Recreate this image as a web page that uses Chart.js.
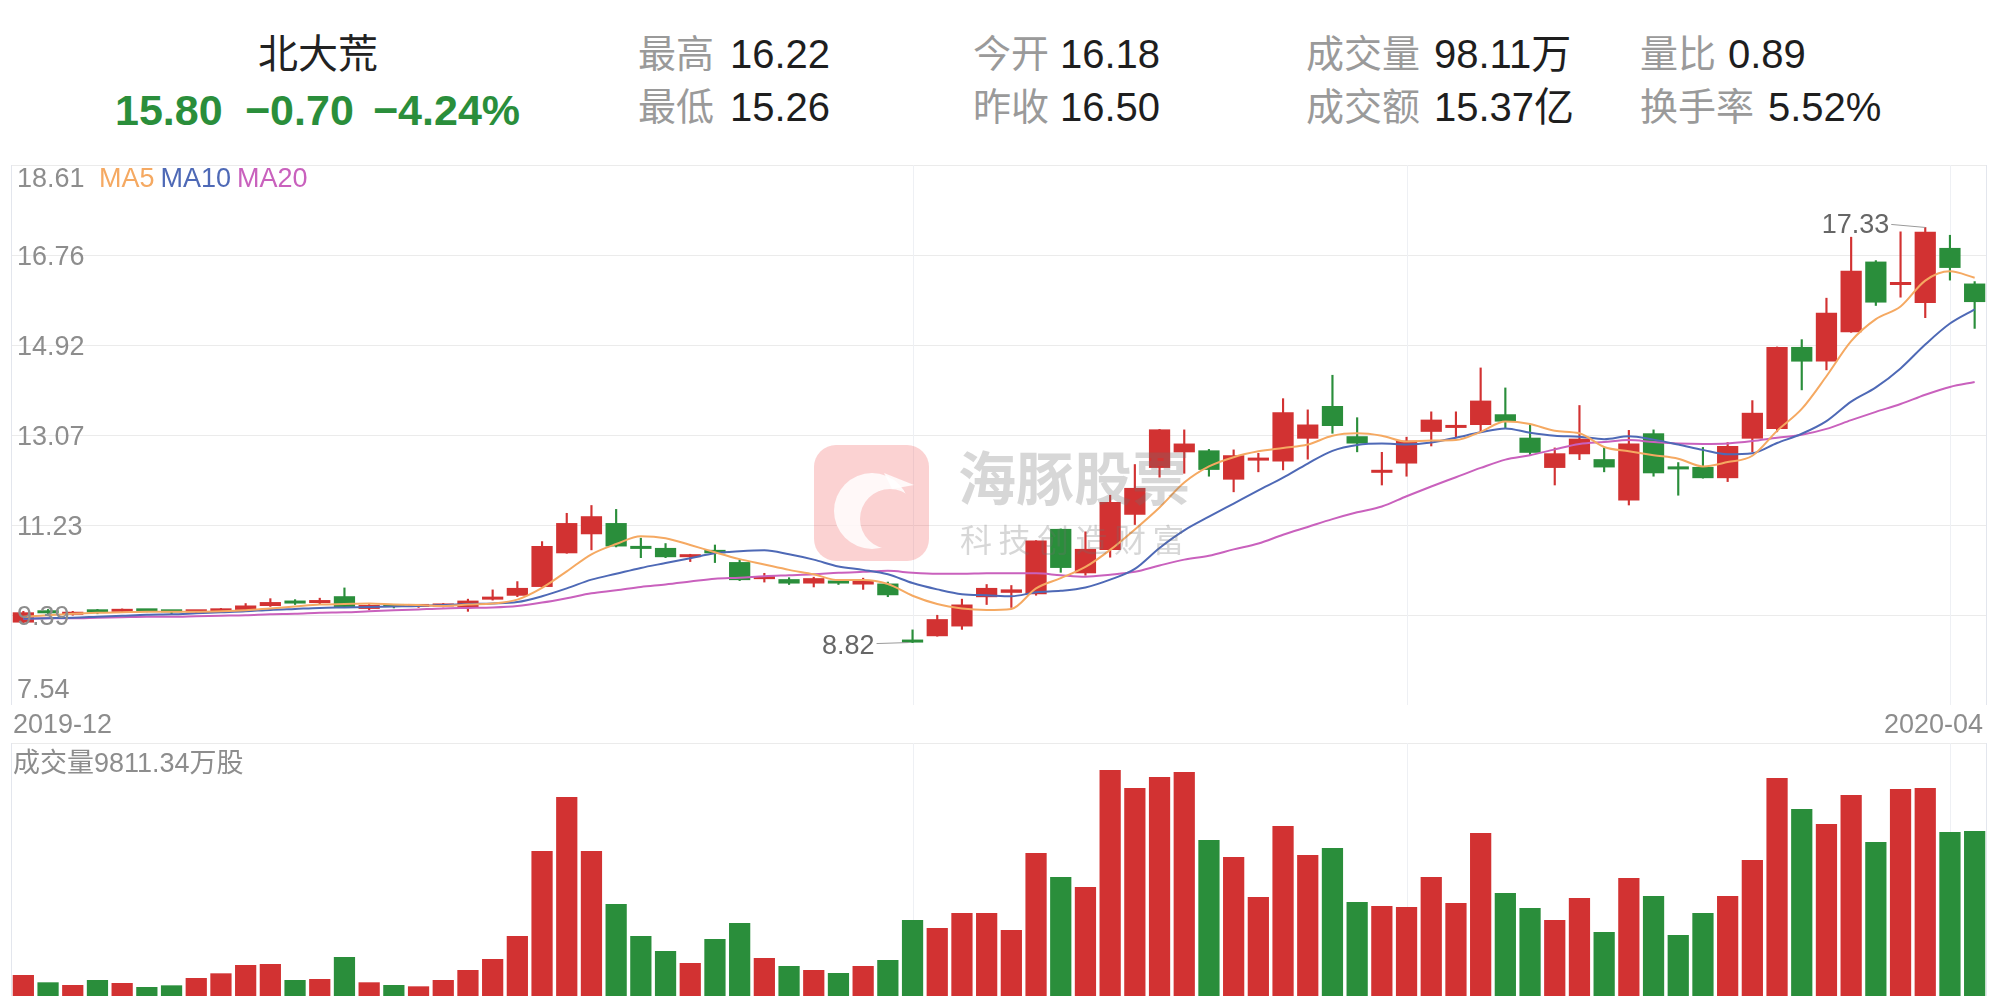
<!DOCTYPE html>
<html>
<head>
<meta charset="utf-8">
<script src="https://cdn.jsdelivr.net/npm/chart.js@4.4.1/dist/chart.umd.min.js"></script>
<style>
  body { margin: 0; width: 2001px; height: 999px; background: #fff; position: relative; overflow: hidden;
         font-family: "Liberation Sans", "Noto Sans CJK SC", sans-serif; }
  .t { position: absolute; white-space: nowrap; line-height: 1; }
  .lab { color: #9a9a9a; font-size: 38px; }
  .val { color: #1e1e1e; font-size: 40px; }
  .chg { color: #2a8e3b; font-size: 43px; font-weight: bold; }
  canvas { position: absolute; left: 0; }
</style>
</head>
<body>
<div class="t" style="left:258px;top:34px;font-size:40px;color:#222">北大荒</div>
<div class="t chg" style="left:115px;top:89px">15.80</div>
<div class="t chg" style="left:245px;top:89px">−0.70</div>
<div class="t chg" style="left:373px;top:89px">−4.24%</div>

<div class="t lab" style="left:638px;top:35px">最高</div><div class="t val" style="left:730px;top:34px">16.22</div>
<div class="t lab" style="left:638px;top:88px">最低</div><div class="t val" style="left:730px;top:87px">15.26</div>
<div class="t lab" style="left:973px;top:35px">今开</div><div class="t val" style="left:1060px;top:34px">16.18</div>
<div class="t lab" style="left:973px;top:88px">昨收</div><div class="t val" style="left:1060px;top:87px">16.50</div>
<div class="t lab" style="left:1306px;top:35px">成交量</div><div class="t val" style="left:1434px;top:34px">98.11万</div>
<div class="t lab" style="left:1306px;top:88px">成交额</div><div class="t val" style="left:1434px;top:87px">15.37亿</div>
<div class="t lab" style="left:1640px;top:35px">量比</div><div class="t val" style="left:1728px;top:34px">0.89</div>
<div class="t lab" style="left:1640px;top:88px">换手率</div><div class="t val" style="left:1768px;top:87px">5.52%</div>

<canvas id="priceChart" width="2001" height="590" style="top:150px"></canvas>
<canvas id="volChart" width="2001" height="259" style="top:740px"></canvas>

<script>
// trading days, 2019-12-04 .. 2020-04-02
const dates = [
  '2019-12-04','2019-12-05','2019-12-06','2019-12-09','2019-12-10','2019-12-11','2019-12-12','2019-12-13','2019-12-16','2019-12-17',
  '2019-12-18','2019-12-19','2019-12-20','2019-12-23','2019-12-24','2019-12-25','2019-12-26','2019-12-27','2019-12-30','2019-12-31',
  '2020-01-02','2020-01-03','2020-01-06','2020-01-07','2020-01-08','2020-01-09','2020-01-10','2020-01-13','2020-01-14','2020-01-15',
  '2020-01-16','2020-01-17','2020-01-20','2020-01-21','2020-01-22','2020-01-23','2020-02-03','2020-02-04','2020-02-05','2020-02-06',
  '2020-02-07','2020-02-10','2020-02-11','2020-02-12','2020-02-13','2020-02-14','2020-02-17','2020-02-18','2020-02-19','2020-02-20',
  '2020-02-21','2020-02-24','2020-02-25','2020-02-26','2020-02-27','2020-02-28','2020-03-02','2020-03-03','2020-03-04','2020-03-05',
  '2020-03-06','2020-03-09','2020-03-10','2020-03-11','2020-03-12','2020-03-13','2020-03-16','2020-03-17','2020-03-18','2020-03-19',
  '2020-03-20','2020-03-23','2020-03-24','2020-03-25','2020-03-26','2020-03-27','2020-03-30','2020-03-31','2020-04-01','2020-04-02'
];
const opens = [9.23,9.45,9.39,9.46,9.45,9.48,9.45,9.44,9.46,9.49, 9.57,9.64,9.63,9.77,9.51,9.57,9.55,9.56,9.53,9.70,
  9.78,9.96,10.65,11.04,11.27,10.79,10.76,10.57,10.72,10.47, 10.12,10.12,10.03,10.08,10.01,10.03,8.87,8.95,9.15,9.75,
  9.84,9.81,11.15,10.24,10.72,11.44,12.40,12.72,12.76,12.16, 12.55,12.53,13.00,13.67,13.05,12.30,12.49,13.14,13.22,13.28,
  13.50,13.02,12.40,12.68,12.58,11.73,13.11,12.38,12.42,12.19, 13.00,13.20,14.88,14.58,15.18,16.63,16.15,15.78,16.91,16.18];
const highs = [9.46,9.50,9.46,9.50,9.51,9.49,9.48,9.46,9.52,9.62, 9.72,9.70,9.73,9.94,9.60,9.59,9.59,9.62,9.71,9.90,
  10.07,10.89,11.47,11.63,11.55,10.96,10.85,10.63,10.82,10.51, 10.24,10.15,10.16,10.11,10.14,10.06,9.08,9.38,9.71,10.01,
  9.99,10.91,11.15,11.09,11.84,12.47,13.19,13.18,12.78,12.77, 12.70,13.82,13.59,14.30,13.43,12.72,13.03,13.55,13.55,14.45,
  14.04,13.29,12.81,13.68,12.81,13.17,13.18,12.51,12.82,12.92, 13.78,14.88,15.03,15.88,17.13,16.65,17.24,17.33,17.17,16.22];
const lows = [9.21,9.38,9.38,9.41,9.44,9.45,9.41,9.43,9.45,9.48, 9.56,9.60,9.61,9.54,9.49,9.53,9.54,9.55,9.46,9.69,
  9.76,9.96,10.65,10.72,10.78,10.56,10.56,10.48,10.46,10.09, 10.06,10.01,9.96,10.01,9.91,9.76,8.82,8.95,9.09,9.60,
  9.54,9.79,10.26,10.20,10.57,11.24,12.21,12.29,12.23,11.91, 12.32,12.36,12.58,13.11,12.73,12.05,12.23,12.85,13.03,13.14,
  13.22,12.66,12.05,12.57,12.32,11.64,12.23,11.84,12.19,12.12, 12.73,13.14,14.00,14.41,15.18,15.73,15.90,15.48,16.25,15.26];
const closes = [9.44,9.42,9.44,9.44,9.48,9.46,9.44,9.45,9.49,9.58, 9.65,9.62,9.67,9.55,9.59,9.55,9.57,9.60,9.68,9.71,
  9.94,10.80,11.27,11.41,10.79,10.74,10.57,10.60,10.65,10.10, 10.18,10.03,10.14,10.03,10.10,9.79,8.82,9.30,9.60,9.94,
  9.91,10.91,10.35,10.74,11.70,11.99,13.19,12.90,12.36,12.66, 12.57,13.54,13.29,13.26,12.90,12.31,12.96,13.39,13.28,13.78,
  13.35,12.71,12.70,13.00,12.41,12.90,12.29,12.37,12.19,12.85, 13.53,14.88,14.58,15.58,16.44,15.79,16.17,17.24,16.50,15.80];
const ma5 = [9.35,9.38,9.41,9.43,9.44,9.45,9.45,9.45,9.46,9.48, 9.52,9.56,9.60,9.61,9.62,9.60,9.59,9.57,9.60,9.62,
  9.70,9.94,10.28,10.63,10.84,11.00,10.96,10.82,10.67,10.53, 10.42,10.31,10.22,10.10,10.10,10.02,9.78,9.61,9.52,9.49,
  9.51,9.93,10.14,10.37,10.72,11.14,11.59,12.10,12.43,12.62, 12.74,12.81,12.88,13.06,13.11,13.06,12.94,12.96,12.97,13.14,
  13.35,13.30,13.16,13.11,12.83,12.74,12.66,12.59,12.43,12.52, 12.65,13.16,13.61,14.28,15.00,15.45,15.71,16.24,16.43,16.30];
const ma10 = [9.31,9.32,9.33,9.35,9.37,9.39,9.40,9.42,9.44,9.46, 9.49,9.51,9.53,9.54,9.55,9.56,9.57,9.59,9.61,9.62,
  9.65,9.77,9.93,10.11,10.23,10.35,10.45,10.55,10.65,10.69, 10.71,10.63,10.52,10.38,10.31,10.22,10.04,9.91,9.81,9.79,
  9.77,9.85,9.88,9.95,10.11,10.33,10.76,11.12,11.40,11.67, 11.94,12.20,12.49,12.75,12.87,12.90,12.88,12.92,13.02,13.13,
  13.21,13.12,13.06,13.04,12.99,13.05,12.98,12.88,12.77,12.68, 12.70,12.91,13.10,13.36,13.76,14.05,14.44,14.93,15.36,15.65];
const ma20 = [9.31,9.32,9.32,9.33,9.34,9.35,9.35,9.36,9.37,9.38, 9.40,9.41,9.43,9.44,9.46,9.48,9.50,9.52,9.53,9.54,
  9.57,9.64,9.73,9.83,9.89,9.96,10.01,10.07,10.13,10.15, 10.18,10.20,10.22,10.25,10.27,10.29,10.25,10.23,10.23,10.24,
  10.24,10.24,10.20,10.17,10.21,10.27,10.40,10.52,10.60,10.73, 10.85,11.03,11.19,11.35,11.49,11.61,11.82,12.02,12.21,12.40,
  12.57,12.66,12.78,12.89,12.93,12.97,12.93,12.90,12.89,12.90, 12.95,13.02,13.08,13.20,13.38,13.55,13.71,13.90,14.06,14.16];
// volume, 万股
const vols = [1249,814,654,951,773,535,634,1070,1348,1843, 1903,951,1011,2319,814,654,575,951,1546,2200,
  3568,8622,11833,8622,5470,3568,2676,1962,3389,4341, 2259,1784,1546,1368,1784,2141,4519,4043,4935,4935,
  3924,8503,7076,6481,13438,12368,13022,13319,9276,8265, 5887,10108,8384,8800,5589,5351,5292,7076,5530,9692,
  6124,5232,4519,5827,3805,7016,5946,3627,4935,5946, 8087,12962,11119,10227,11951,9157,12308,12368,9751,9811.34];
const yTicks = [7.54, 9.39, 11.23, 13.07, 14.92, 16.76, 18.61];
const monthLines = [36, 56, 78];

const UP = '#d23232', DOWN = '#2a8e3b';
const MA_COLORS = ['#f5a962', '#4e69b6', '#c961bd'];
const FONT = '"Liberation Sans", "Noto Sans CJK SC", sans-serif';
const colors = closes.map((c, i) => c >= opens[i] ? UP : DOWN);

function line(ctx, x1, y1, x2, y2) {
  ctx.beginPath(); ctx.moveTo(x1, y1); ctx.lineTo(x2, y2); ctx.stroke();
}

function drawFrame(chart, hLines) {
  const { ctx, chartArea: a, scales: { x, y } } = chart;
  ctx.save();
  ctx.lineWidth = 1;
  ctx.strokeStyle = '#ebebeb';
  hLines.forEach(v => {
    const py = Math.round(y.getPixelForValue(v)) + 0.5;
    line(ctx, a.left, py, a.right, py);
  });
  ctx.strokeStyle = '#eef0f4';
  monthLines.forEach(i => {
    const px = Math.round(x.getPixelForValue(i)) + 0.5;
    line(ctx, px, a.top, px, a.bottom);
  });
  ctx.strokeStyle = '#e3e6ed';
  line(ctx, a.left + 0.5, a.top, a.left + 0.5, a.bottom);
  line(ctx, a.right - 0.5, a.top, a.right - 0.5, a.bottom);
  ctx.restore();
}

function drawWatermark(ctx) {
  const ox = 814, oy = 295, w = 115, h = 116;
  ctx.save();
  ctx.fillStyle = 'rgba(240,95,95,0.28)';
  ctx.beginPath(); ctx.roundRect(ox, oy, w, h, 22); ctx.fill();
  // dolphin crescent
  ctx.beginPath();
  ctx.rect(ox, oy, w, h);
  ctx.arc(ox + 76, oy + 74, 30, 0, Math.PI * 2, true);
  ctx.clip('evenodd');
  ctx.fillStyle = 'rgba(255,255,255,0.85)';
  ctx.beginPath(); ctx.arc(ox + 58, oy + 66, 38, 0, Math.PI * 2); ctx.fill();
  ctx.restore();
  ctx.save();
  ctx.fillStyle = 'rgba(255,255,255,0.85)';
  ctx.beginPath();
  ctx.moveTo(ox + 70, oy + 28); ctx.lineTo(ox + 100, oy + 40); ctx.lineTo(ox + 78, oy + 44); ctx.closePath(); ctx.fill();
  ctx.fillStyle = 'rgba(110,110,110,0.28)';
  ctx.font = 'bold 58px "Noto Sans CJK SC", sans-serif';
  ctx.textBaseline = 'alphabetic'; ctx.textAlign = 'left';
  ctx.fillText('海豚股票', 958, 350);
  ctx.font = '32px "Noto Sans CJK SC", sans-serif';
  '科技创造财富'.split('').forEach((ch, i) => ctx.fillText(ch, 960 + i * 38.5, 402));
  ctx.restore();
}

const priceDecor = {
  id: 'priceDecor',
  beforeDatasetsDraw(chart) { drawFrame(chart, yTicks.slice(1)); },
  afterDatasetsDraw(chart) {
    const { ctx, chartArea: a, scales: { x, y } } = chart;
    drawWatermark(ctx);
    ctx.save();
    ctx.font = '27px ' + FONT;
    ctx.textBaseline = 'alphabetic';
    ctx.fillStyle = '#8d8d8d';
    ctx.textAlign = 'left';
    yTicks.forEach((v, i) => {
      const py = y.getPixelForValue(v);
      let by = py + 10;
      if (i === yTicks.length - 1) by = py + 22;
      if (i === 0) by = py - 7;
      ctx.fillText(v.toFixed(2), a.left + 6, by);
    });
    // legend
    let lx = a.left + 88;
    ['MA5', 'MA10', 'MA20'].forEach((t, i) => {
      ctx.fillStyle = MA_COLORS[i];
      ctx.fillText(t, lx, a.top + 22);
      lx += ctx.measureText(t).width + 6;
    });
    // first / last month
    ctx.fillStyle = '#8d8d8d';
    ctx.fillText(dates[0].slice(0, 7), a.left + 2, a.bottom + 28);
    ctx.textAlign = 'right';
    ctx.fillText(dates[dates.length - 1].slice(0, 7), a.right - 4, a.bottom + 28);
    // max / min markers
    const hi = highs.indexOf(Math.max(...highs));
    const lo = lows.indexOf(Math.min(...lows));
    ctx.fillStyle = '#666';
    ctx.strokeStyle = '#9a9a9a';
    ctx.lineWidth = 1;
    let px = x.getPixelForValue(hi), py = y.getPixelForValue(highs[hi]);
    ctx.fillText(highs[hi].toFixed(2), px - 36, py + 6);
    line(ctx, px - 34, py - 3, px, py);
    px = x.getPixelForValue(lo); py = y.getPixelForValue(lows[lo]);
    ctx.fillText(lows[lo].toFixed(2), px - 38, py + 11);
    line(ctx, px - 36, py + 1, px - 4, py);
    ctx.restore();
  }
};

new Chart(document.getElementById('priceChart'), {
  type: 'bar',
  data: {
    labels: dates,
    datasets: [
      { type: 'line', label: 'MA5', data: ma5, borderColor: MA_COLORS[0], borderWidth: 2, pointRadius: 0, cubicInterpolationMode: 'monotone' },
      { type: 'line', label: 'MA10', data: ma10, borderColor: MA_COLORS[1], borderWidth: 2, pointRadius: 0, cubicInterpolationMode: 'monotone' },
      { type: 'line', label: 'MA20', data: ma20, borderColor: MA_COLORS[2], borderWidth: 2, pointRadius: 0, cubicInterpolationMode: 'monotone' },
      { label: 'body', data: opens.map((o, i) => [o, closes[i]]), backgroundColor: colors,
        barPercentage: 0.86, categoryPercentage: 1, grouped: false, minBarLength: 3 },
      { label: 'wick', data: lows.map((l, i) => [l, highs[i]]), backgroundColor: colors,
        barThickness: 1.5, grouped: false }
    ]
  },
  options: {
    responsive: false,
    animation: false,
    layout: { padding: { left: 11, right: 14, top: 15, bottom: 35 } },
    plugins: { legend: { display: false }, tooltip: { enabled: false } },
    scales: {
      x: { type: 'category', offset: true, display: false },
      y: { type: 'linear', min: yTicks[0], max: yTicks[yTicks.length - 1], display: false }
    }
  },
  plugins: [priceDecor]
});

const volDecor = {
  id: 'volDecor',
  beforeDatasetsDraw(chart) { drawFrame(chart, [chart.scales.y.max]); },
  afterDatasetsDraw(chart) {
    const { ctx, chartArea: a } = chart;
    ctx.save();
    ctx.font = '27px ' + FONT;
    ctx.fillStyle = '#8d8d8d';
    ctx.textBaseline = 'alphabetic';
    ctx.fillText('成交量' + vols[vols.length - 1].toFixed(2) + '万股', a.left + 2, a.top + 29);
    ctx.restore();
  }
};

new Chart(document.getElementById('volChart'), {
  type: 'bar',
  data: {
    labels: dates,
    datasets: [{ label: '成交量', data: vols, backgroundColor: colors, barPercentage: 0.86, categoryPercentage: 1 }]
  },
  options: {
    responsive: false,
    animation: false,
    layout: { padding: { left: 11, right: 14, top: 3, bottom: 3 } },
    plugins: { legend: { display: false }, tooltip: { enabled: false } },
    scales: {
      x: { type: 'category', offset: true, display: false },
      y: { min: 0, max: 15040, display: false }
    }
  },
  plugins: [volDecor]
});
</script>
</body>
</html>
